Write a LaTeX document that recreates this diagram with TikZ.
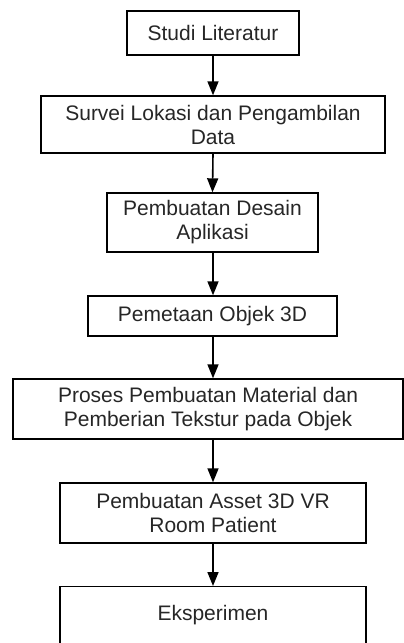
\documentclass[tikz,border=0pt]{standalone}
\usepackage{fontspec}
\setmainfont{Liberation Sans}
\usetikzlibrary{arrows.meta}
\begin{document}
\begin{tikzpicture}[x=1pt,y=-1pt,
  box/.style={draw=black, line width=1.4pt, inner sep=0pt, align=center,
    font=\fontsize{21}{24}\selectfont, text=black!85},
  txt/.style={inner sep=0pt, font=\fontsize{21}{24}\selectfont, text=black!85},
  flow/.style={line width=1.6pt, -{Triangle[length=14pt,width=11pt]}}]
\useasboundingbox (0,0) rectangle (404,643);
\node[box, minimum width=172, minimum height=44] (b1) at (213,33) {Studi Literatur};
\node[box, minimum width=344, minimum height=57] (b2) at (213,124.5) {Survei Lokasi dan Pengambilan\\Data};
\node[box, minimum width=211, minimum height=59] (b3) at (212.5,222.5) {Pembuatan Desain\\Aplikasi};
\node[box, minimum width=249, minimum height=40] (b4) at (212.5,316) {Pemetaan Objek 3D};
\node[box, minimum width=390, minimum height=60] (b5) at (208,409) {Proses Pembuatan Material dan\\Pemberian Tekstur pada Objek};
\node[box, minimum width=306, minimum height=60] (b6) at (213,513) {Pembuatan Asset 3D VR\\Room Patient};
\node[box, minimum width=306, minimum height=64, anchor=north] (b7) at (213,586) {};
\node[txt, anchor=base] (b7t) at (213,620.5) {Eksperimen};
\draw[flow] (b1.south) -- (b2.north);
\draw[flow] (b2.south) -- (b3.north);
\draw[flow] (b3.south -| b2.south) -- (b4.north -| b2.south);
\draw[flow] (b4.south -| b2.south) -- (b5.north -| b2.south);
\draw[flow] (b5.south -| b2.south) -- (b6.north);
\draw[flow] (b6.south) -- (b7.north);
\end{tikzpicture}
\end{document}
